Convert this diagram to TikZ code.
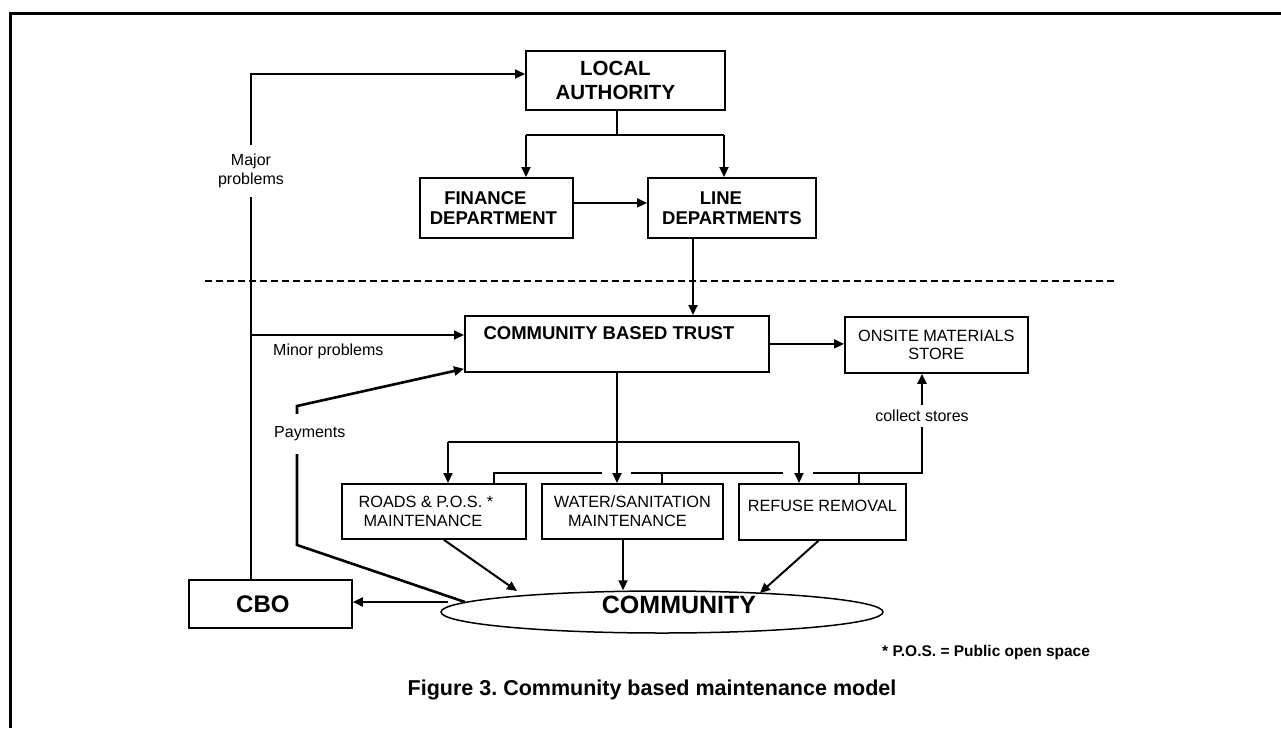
\documentclass[tikz,border=0pt]{standalone}
\usepackage{fontspec}
\setmainfont{Liberation Sans}
\usetikzlibrary{arrows.meta,shapes.geometric}
\frenchspacing
\begin{document}
\begin{tikzpicture}[x=1pt,y=-1pt,
  box/.style={draw, line width=1.8pt, inner sep=0pt, align=center, anchor=north west},
  bigbold/.style={font=\bfseries\fontsize{20.5}{24}\selectfont},
  bold/.style={font=\bfseries\fontsize{18.5}{20}\selectfont},
  reg/.style={font=\fontsize{16.3}{18.5}\selectfont},
  conn/.style={line width=2pt},
  arr/.style={conn, -{Triangle[length=10pt,width=9pt]}},
  lbl/.style={font=\fontsize{16}{19}\selectfont, inner sep=0pt, align=center},
  sep/.style={line width=1.4pt, dash pattern=on 7pt off 4pt},
]
\useasboundingbox (0,0) rectangle (1281,728);
% frame
\draw[line width=3pt] (1281,13.5) -- (10.5,13.5) -- (10.5,728);

% boxes
\node[box, bigbold, minimum width=199pt, minimum height=59pt] (la) at (525,50) {LOCAL\hspace*{20pt}\\AUTHORITY\hspace*{20pt}};
\node[box, bold, minimum width=153pt, minimum height=60pt] (fin) at (419,177) {FINANCE\hspace*{22pt}\\DEPARTMENT\hspace*{6pt}};
\node[box, bold, minimum width=168pt, minimum height=60pt] (ld) at (647,177) {LINE\hspace*{22pt}\\DEPARTMENTS};
\node[box, bold, minimum width=304pt, minimum height=56pt, text depth=22pt] (cbt) at (464,315) {COMMUNITY BASED TRUST\hspace*{16pt}};
\node[box, reg, minimum width=183pt, minimum height=56pt] (ons) at (844,316) {ONSITE MATERIALS\\STORE};
\node[box, reg, minimum width=184pt, minimum height=55pt] (roads) at (341,483) {ROADS \& P.O.S. *\hspace*{16pt}\\MAINTENANCE\hspace*{22pt}};
\node[box, reg, minimum width=181pt, minimum height=55pt] (water) at (541,483) {WATER/SANITATION\\MAINTENANCE\hspace*{10pt}};
\node[box, reg, minimum width=167pt, minimum height=56pt, text depth=12pt] (refuse) at (738,483) {REFUSE REMOVAL};
\node[box, font=\bfseries\fontsize{24}{28}\selectfont, minimum width=163pt, minimum height=48pt] (cbo) at (188,579) {CBO\hspace*{15pt}};
\node[ellipse, draw, line width=1.5pt, minimum width=442pt, minimum height=42pt, inner sep=0pt,
      font=\bfseries\fontsize{25}{28}\selectfont] (com) at (662,612)
      {\hspace*{34pt}\raisebox{8pt}[18pt][0pt]{COMMUNITY}};

% separator
\draw[sep] (205,281) -- (1117,281);

% coordinates
\coordinate (majtop) at (251,74);
\coordinate (minor) at (251,335);
\coordinate (p0) at (465,602);
\coordinate (p1) at (297,545);
\coordinate (p2) at (297,406);
\coordinate (lab) at (617,135);
\coordinate (bl) at (526,135);
\coordinate (br) at (724,135);
\coordinate (ldx) at (693,300);
\coordinate (tb) at (617,442);
\coordinate (tl) at (448,442);
\coordinate (tr) at (799,442);
\coordinate (s1) at (494,473);
\coordinate (g1a) at (602,473);
\coordinate (g1b) at (631,473);
\coordinate (s2) at (662,473);
\coordinate (g2a) at (783,473);
\coordinate (g2b) at (813,473);
\coordinate (s3) at (859,473);
\coordinate (s4) at (922,473);
\coordinate (c1) at (517,591);
\coordinate (wc) at (623,560);
\coordinate (c3) at (760,593);
\coordinate (cc) at (448,602);

% connectors
\draw[arr] (cbo.north -| majtop) -- (majtop) -- (la.west |- majtop);
\draw[arr] (minor) -- (cbt.west |- minor);
\draw[arr, line width=2.6pt] (p0) -- (p1) -- (p2) -- ([yshift=4pt]cbt.south west);
\draw[conn] (la.south -| lab) -- (lab);
\draw[conn] (bl) -- (br);
\draw[arr] (bl) -- (fin.north -| bl);
\draw[arr] (br) -- (ld.north -| br);
\draw[arr] ([yshift=5pt]fin.east) -- ([yshift=5pt]ld.west);
\draw[arr] (ld.south -| ldx) -- (cbt.north -| ldx);
\draw[arr] (cbt.east) -- (cbt.east -| ons.west);
\draw[arr] (cbt.south -| tb) -- (water.north -| tb);
\draw[conn] (tl) -- (tr);
\draw[arr] (tl) -- (roads.north -| tl);
\draw[arr] (tr) -- (refuse.north -| tr);
\draw[conn] (roads.north -| s1) -- (s1) -- (g1a);
\draw[conn] (g1b) -- (g2a);
\draw[conn] (s2) -- (water.north -| s2);
\draw[conn] (s3) -- (refuse.north -| s3);
\draw[arr] (g2b) -- (s4) -- (ons.south -| s4);
\draw[arr] ([xshift=10pt]roads.south) -- (c1);
\draw[arr] (water.south -| wc) -- (com.north -| wc);
\draw[arr] ([xshift=-4pt]refuse.south) -- (c3);
\draw[arr] (cc) -- (cbo.east |- cc);

% labels
\node[lbl, fill=white, inner xsep=2pt, inner ysep=9pt] (majl) at (251,171) {Major\\problems};
\node[lbl, anchor=west] (minl) at (273,351) {Minor problems};
\node[lbl, anchor=west, fill=white, inner xsep=1pt, inner ysep=13pt] (payl) at (273,434) {Payments};
\node[lbl, fill=white, inner xsep=2pt, inner ysep=5pt] (coll) at (922,416) {collect stores};

\node[anchor=west, font=\bfseries\fontsize{15.5}{18}\selectfont, inner sep=0pt] (fn) at (882,652) {* P.O.S. = Public open space};
\node[font=\bfseries\fontsize{21.5}{24}\selectfont, inner sep=0pt] (cap) at (652,690) {Figure 3. Community based maintenance model};
\end{tikzpicture}
\end{document}
